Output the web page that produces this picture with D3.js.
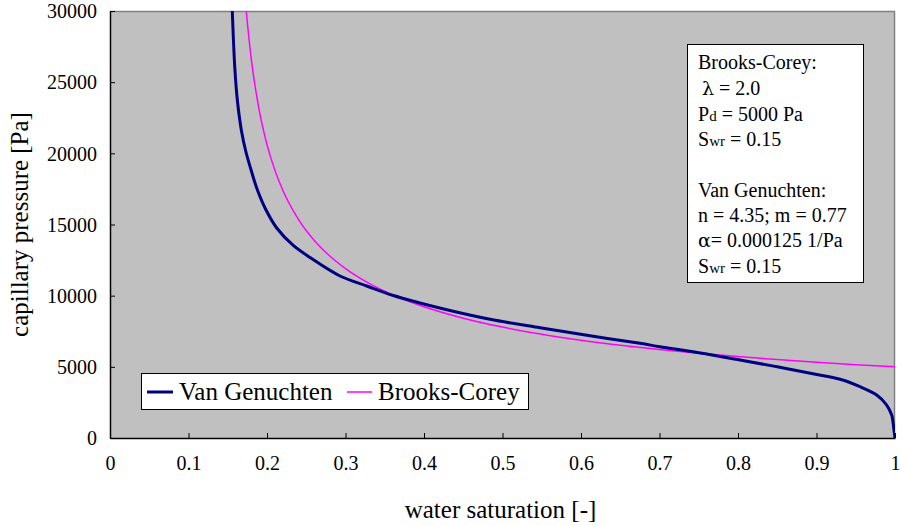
<!DOCTYPE html>
<html>
<head>
<meta charset="utf-8">
<script src="https://cdn.jsdelivr.net/npm/d3@7"></script>
<style>
  html, body { margin: 0; padding: 0; background: #ffffff; }
  svg { display: block; font-family: "Liberation Serif", "DejaVu Serif", serif; }
</style>
</head>
<body>
<svg id="chart" width="901" height="526"></svg>
<script>
// ---- data ----
const xTicks = [0, 0.1, 0.2, 0.3, 0.4, 0.5, 0.6, 0.7, 0.8, 0.9, 1];
const xTickLabels = ["0", "0.1", "0.2", "0.3", "0.4", "0.5", "0.6", "0.7", "0.8", "0.9", "1"];
const yTicks = [0, 5000, 10000, 15000, 20000, 25000, 30000];
const yTickLabels = ["0", "5000", "10000", "15000", "20000", "25000", "30000"];

const vgSw = [0.1558, 0.1589, 0.1622, 0.1675, 0.1732, 0.1790, 0.1869, 0.1975, 0.2124, 0.2335, 0.2548, 0.2930, 0.3270, 0.3609, 0.3949, 0.4331, 0.4841, 0.5478, 0.6115, 0.6752, 0.7006, 0.7500, 0.8025, 0.8500, 0.8955, 0.9300, 0.9554, 0.9767, 0.9894, 0.9958, 0.9971, 0.9987, 1.0];
const vgPc = [30000, 26088, 23748, 21570, 20094, 18970, 17565, 16160, 14755, 13525, 12682, 11382, 10680, 10012, 9485, 8958, 8340, 7743, 7181, 6654, 6415, 5990, 5480, 5000, 4510, 4124, 3604, 3021, 2318, 1616, 1265, 562, 0];

const bcSw = [0.1736, 0.175, 0.18, 0.19, 0.20, 0.21, 0.22, 0.24, 0.26, 0.28, 0.30, 0.33, 0.36, 0.40, 0.45, 0.50, 0.55, 0.60, 0.65, 0.70, 0.75, 0.80, 0.85, 0.90, 0.95, 1.00];
const bcPc = [30000, 29155, 26616, 23049, 20616, 18820, 17423, 15366, 13899, 12785, 11902, 10865, 10059, 9219, 8416, 7792, 7289, 6872, 6519, 6216, 5951, 5718, 5510, 5323, 5154, 5000];

const seriesNames = ["Van Genuchten", "Brooks-Corey"];
const infoLines = [
  [{t: "Brooks-Corey:"}],
  [{t: "\u03bb", sym: true, indent: true}, {t: " = 2.0"}],
  [{t: "P"}, {t: "d", sub: true}, {t: " = 5000 Pa"}],
  [{t: "S"}, {t: "wr", sub: true}, {t: " = 0.15"}],
  [],
  [{t: "Van Genuchten:"}],
  [{t: "n = 4.35; m = 0.77"}],
  [{t: "\u03b1", sym: true}, {t: "= 0.000125 1/Pa"}],
  [{t: "S"}, {t: "wr", sub: true}, {t: " = 0.15"}]
];

// ---- layout ----
const svg = d3.select("#chart");
const plot = {left: 110, right: 895, top: 11, bottom: 438};

const x = d3.scaleLinear().domain([0, 1]).range([plot.left, plot.right]);
const y = d3.scaleLinear().domain([0, 30000]).range([plot.bottom, plot.top]);

svg.append("rect").attr("width", 901).attr("height", 526).attr("fill", "#ffffff");

svg.append("rect")
  .attr("x", plot.left).attr("y", plot.top)
  .attr("width", plot.right - plot.left).attr("height", plot.bottom - plot.top)
  .attr("fill", "#c0c0c0");

// gray top/right border
svg.append("path")
  .attr("d", `M${plot.left},${plot.top + 0.5}H${plot.right - 0.5}V${plot.bottom}`)
  .attr("fill", "none").attr("stroke", "#808080").attr("stroke-width", 1.5);

svg.append("clipPath").attr("id", "clip")
  .append("rect").attr("x", plot.left).attr("y", plot.top)
  .attr("width", plot.right - plot.left).attr("height", plot.bottom - plot.top);

// axes
const xAxis = d3.axisBottom(x).tickValues(xTicks).tickSizeInner(-5).tickSizeOuter(0).tickFormat((d, i) => xTickLabels[i]);
const gx = svg.append("g").attr("transform", `translate(0,${plot.bottom})`).call(xAxis);
gx.select(".domain").attr("stroke", "#000").attr("stroke-width", 1.5);
gx.selectAll(".tick line").attr("stroke", "#000");
gx.selectAll(".tick text").attr("font-family", "Liberation Serif").attr("font-size", 20).attr("fill", "#000").attr("y", 18).attr("dy", "0.71em");

const yAxis = d3.axisLeft(y).tickValues(yTicks).tickSizeInner(-5).tickSizeOuter(0).tickFormat((d, i) => yTickLabels[i]);
const gy = svg.append("g").attr("transform", `translate(${plot.left},0)`).call(yAxis);
gy.select(".domain").attr("stroke", "#000").attr("stroke-width", 1.5);
gy.selectAll(".tick line").attr("stroke", "#000");
gy.selectAll(".tick text").attr("font-family", "Liberation Serif").attr("font-size", 20).attr("fill", "#000").attr("x", -13).attr("dy", "0.34em");

// axis titles
svg.append("text")
  .attr("x", (plot.left + plot.right) / 2 - 2).attr("y", 518)
  .attr("text-anchor", "middle").attr("font-size", 25).attr("fill", "#000")
  .text("water saturation [-]");
svg.append("text")
  .attr("transform", `translate(28,${(plot.top + plot.bottom) / 2}) rotate(-90)`)
  .attr("text-anchor", "middle").attr("font-size", 25).attr("fill", "#000")
  .text("capillary pressure [Pa]");

// curves
const vgLine = d3.line().x(d => x(d[0])).y(d => y(d[1])).curve(d3.curveCatmullRom.alpha(0.5));
const bcLine = d3.line().x(d => x(d[0])).y(d => y(d[1])).curve(d3.curveMonotoneX);
const vgData = vgSw.map((s, i) => [s, vgPc[i]]);
const bcData = bcSw.map((s, i) => [s, bcPc[i]]);
const curves = svg.append("g").attr("clip-path", "url(#clip)");
curves.append("path").datum(bcData).attr("d", bcLine)
  .attr("fill", "none").attr("stroke", "#ff00ff").attr("stroke-width", 1.5);
curves.append("path").datum(vgData).attr("d", vgLine)
  .attr("fill", "none").attr("stroke", "#000080").attr("stroke-width", 3)
  .attr("stroke-linejoin", "round");

// legend
const lg = svg.append("g");
lg.append("rect").attr("x", 141.5).attr("y", 373.5).attr("width", 387).attr("height", 36)
  .attr("fill", "#fff").attr("stroke", "#000").attr("stroke-width", 1);
lg.append("line").attr("x1", 147).attr("x2", 173).attr("y1", 392).attr("y2", 392)
  .attr("stroke", "#000080").attr("stroke-width", 3);
lg.append("text").attr("x", 179).attr("y", 400).attr("font-size", 25).attr("fill", "#000").text(seriesNames[0]);
lg.append("line").attr("x1", 347).attr("x2", 372).attr("y1", 392).attr("y2", 392)
  .attr("stroke", "#ff00ff").attr("stroke-width", 1.5);
lg.append("text").attr("x", 378).attr("y", 400).attr("font-size", 25).attr("fill", "#000").text(seriesNames[1]);

// parameter box
const ib = svg.append("g");
ib.append("rect").attr("x", 687.5).attr("y", 44.5).attr("width", 176).attr("height", 238)
  .attr("fill", "#fff").attr("stroke", "#000").attr("stroke-width", 1);
const baselines = [69, 95, 121, 146, 171, 197, 222, 247, 273];
infoLines.forEach((parts, i) => {
  if (!parts.length) return;
  const t = ib.append("text").attr("x", parts[0].indent ? 702 : 698).attr("y", baselines[i])
    .attr("font-size", 20).attr("fill", "#000");
  parts.forEach(p => {
    const ts = t.append("tspan").text(p.t);
    if (p.sub) ts.attr("font-size", 15);
    if (p.sym) ts.attr("font-family", "DejaVu Serif").attr("font-size", 19);
  });
});
</script>
</body>
</html>
